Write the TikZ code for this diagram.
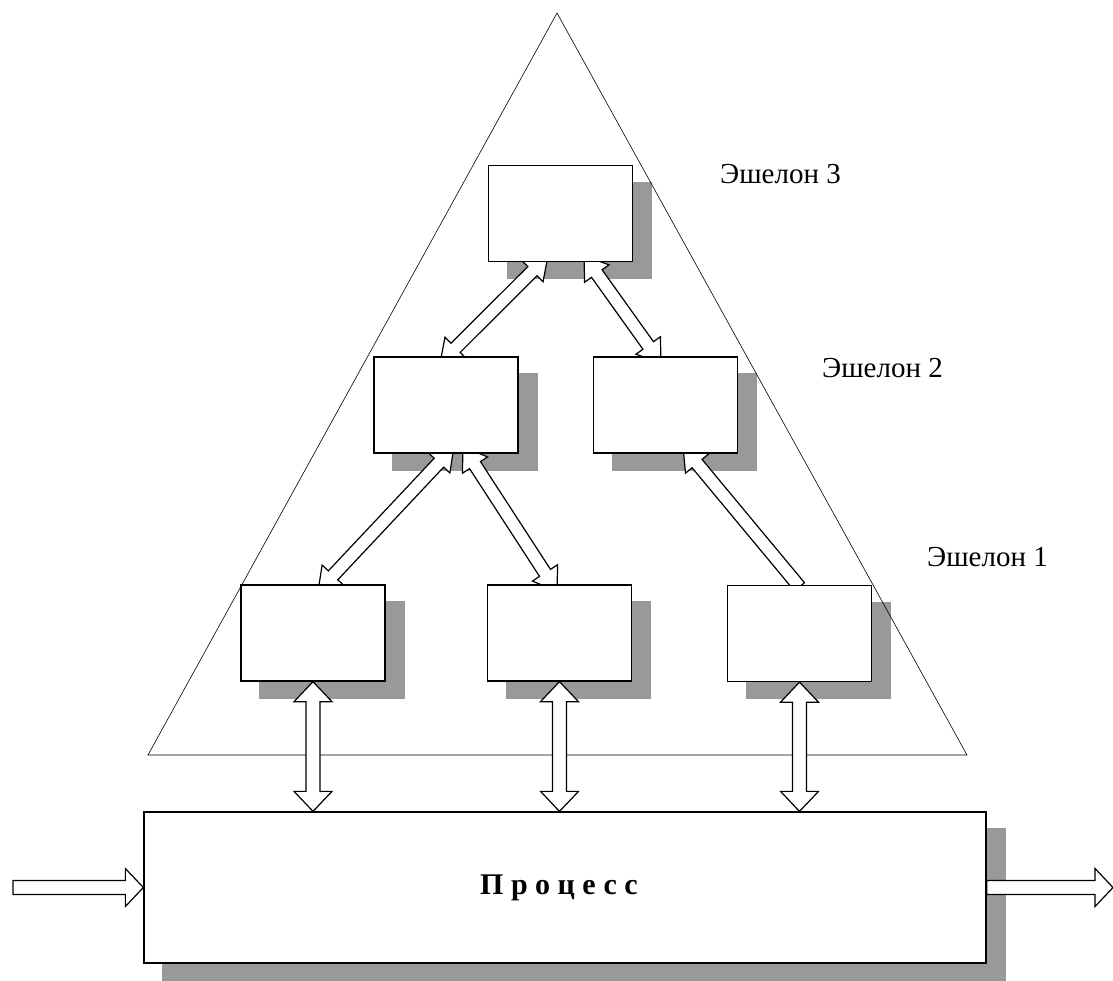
\documentclass[tikz,border=0pt]{standalone}
\usepackage{fontspec}
\setmainfont{Liberation Serif}
\usetikzlibrary{calc,positioning}

\pgfdeclarelayer{shade}
\pgfdeclarelayer{links}
\pgfsetlayers{shade,links,main}

\tikzset{
  block/.style={draw, line width=1.3pt, fill=white, minimum width=144pt, minimum height=96pt, inner sep=0pt},
  hollow/.style={draw, line width=1.2pt, fill=white, line join=miter},
  level/.style={anchor=west, inner sep=0pt, font=\fontsize{29}{32}\selectfont},
  shadecol/.style={fill=black!40},
}

% head half width, head length, shaft half width
\newcommand{\arrowdims}[3]{\def\ahw{#1}\def\ahl{#2}\def\asw{#3}}
% hollow arrow with two heads
\newcommand{\dblarrow}[2]{%
  \coordinate (ha) at ($(#1)!\ahl!(#2)$);
  \coordinate (hb) at ($(#2)!\ahl!(#1)$);
  \draw[hollow] (#1) -- ($(ha)!\ahw!90:(#2)$) -- ($(ha)!\asw!90:(#2)$)
    -- ($(hb)!\asw!-90:(#1)$) -- ($(hb)!\ahw!-90:(#1)$) -- (#2)
    -- ($(hb)!\ahw!90:(#1)$) -- ($(hb)!\asw!90:(#1)$)
    -- ($(ha)!\asw!-90:(#2)$) -- ($(ha)!\ahw!-90:(#2)$) -- cycle;}
% hollow arrow with one head at #2
\newcommand{\onearrow}[2]{%
  \coordinate (hb) at ($(#2)!\ahl!(#1)$);
  \draw[hollow] ($(#1)!\asw!-90:(#2)$) -- ($(hb)!\asw!90:(#1)$)
    -- ($(hb)!\ahw!90:(#1)$) -- (#2) -- ($(hb)!\ahw!-90:(#1)$)
    -- ($(hb)!\asw!-90:(#1)$) -- ($(#1)!\asw!90:(#2)$) -- cycle;}

\begin{document}
\begin{tikzpicture}[x=1pt,y=-1pt]
\useasboundingbox (0,0) rectangle (1113,980);

% Blocks
\node[block] (e3) at (560.5,213.5) {};
\node[block] (e2l) at (446,405) {};
\node[block] (e2r) at (665.5,405) {};
\node[block] (e1l) at (313,633) {};
\node[block] (e1m) at (559.5,633) {};
\node[block] (e1r) at (799.5,633.5) {};
\node[block, minimum width=842pt, minimum height=151pt,
  font=\fontsize{30}{34}\selectfont\bfseries\addfontfeature{LetterSpace=25}] (proc) at (565,887.5) {Процесс\hspace*{12pt}};

% Levels
\node[level] (l3) at (720,174) {Эшелон 3};
\node[level] (l2) at (822,368) {Эшелон 2};
\node[level] (l1) at (927,557) {Эшелон 1};

% Shadows and pyramid
\begin{pgfonlayer}{shade}
\foreach \n in {e3,e2l,e2r,e1l,e1m,e1r,proc}{
  \fill[shadecol] ([shift={(19,17)}]\n.south west) rectangle ([shift={(19,17)}]\n.north east);
}
\coordinate (top) at (557,13);
\coordinate (bl) at (148,755);
\coordinate (br) at (967,755);
\draw[line width=0.6pt] (top) -- (bl) -- (br) -- cycle;
\end{pgfonlayer}

% Links
\begin{pgfonlayer}{links}
\arrowdims{15pt}{22pt}{6.5pt}
\dblarrow{$(e3.south)+(-12.5,-6.5)$}{$(e2l.north)+(-6,7)$}
\dblarrow{$(e3.south)+(23.5,-6.5)$}{$(e2r.north)+(-4.5,7)$}
\dblarrow{$(e2l.south)+(8,-7)$}{$(e1l.north)+(5,7)$}
\dblarrow{$(e2l.south)+(17,-7)$}{$(e1m.north)+(-2.5,7)$}
\onearrow{$(e1r.north)+(0,2)$}{$(e2r.south)+(17.5,-7)$}

\arrowdims{19pt}{20pt}{7pt}
\foreach \n in {e1l,e1m,e1r}{
  \dblarrow{\n.south}{\n.south |- proc.north}
}

\coordinate (in) at (13,887.5);
\coordinate (out) at (1113,887.5);
\arrowdims{19pt}{18pt}{7pt}
\onearrow{in}{proc.west}
\onearrow{proc.east}{out}
\end{pgfonlayer}
\end{tikzpicture}
\end{document}
